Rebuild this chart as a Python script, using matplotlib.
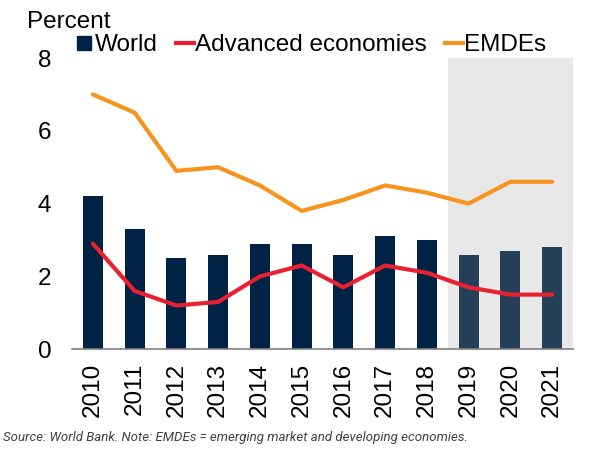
import numpy as np
import matplotlib.pyplot as plt
from matplotlib.lines import Line2D

years = ["2010", "2011", "2012", "2013", "2014", "2015", "2016", "2017", "2018", "2019", "2020", "2021"]
world = [4.2, 3.3, 2.5, 2.6, 2.9, 2.9, 2.6, 3.1, 3.0, 2.6, 2.7, 2.8]
advanced = [2.9, 1.6, 1.2, 1.3, 2.0, 2.3, 1.7, 2.3, 2.1, 1.7, 1.5, 1.5]
emdes = [7.0, 6.5, 4.9, 5.0, 4.5, 3.8, 4.1, 4.5, 4.3, 4.0, 4.6, 4.6]
n_forecast = 3

plt.rcParams['font.family'] = ['Liberation Sans', 'DejaVu Sans']

fig = plt.figure(figsize=(6, 4.5), dpi=100)
ax = fig.add_axes([0.12, 0.224, 0.835, 0.647])

x = np.arange(len(years))
n_hist = len(years) - n_forecast
ax.axvspan(n_hist - 0.5, len(years) - 0.5, ymin=0, ymax=1, color="#e8e8e8", zorder=0, lw=0)
colors = ["#002345"] * n_hist + ["#263f58"] * n_forecast
ax.bar(x, world, width=0.48, color=colors, zorder=2)
ax.plot(x, advanced, color="#e8202f", lw=3, zorder=3, solid_capstyle="round")
ax.plot(x, emdes, color="#f7941d", lw=3, zorder=3, solid_capstyle="round")

ax.set_xlim(-0.5, len(years) - 0.5)
ax.set_ylim(0, 8)
ax.set_yticks([0, 2, 4, 6, 8])
ax.set_xticks(x)
ax.set_xticklabels(years, rotation=90, fontsize=17.5)
ax.tick_params(axis="y", labelsize=17.5, length=0, pad=15)
ax.tick_params(axis="x", length=0, pad=10)
for s in ["top", "right", "left"]:
    ax.spines[s].set_visible(False)
ax.spines["bottom"].set_color("#808080")
ax.spines["bottom"].set_linewidth(1.2)

fig.text(0.045, 0.951, "Percent", fontsize=17.5, va="center")

handles = [
    Line2D([], [], marker="s", color="none", markerfacecolor="#002345", markeredgecolor="#002345", markersize=10),
    Line2D([], [], color="#e8202f", lw=3),
    Line2D([], [], color="#f7941d", lw=3),
]
fig.legend(handles, ["World", "Advanced economies", "EMDEs"], loc="center left",
           bbox_to_anchor=(0.125, 0.9), ncol=3, frameon=False, fontsize=17.5,
           handlelength=0.75, handletextpad=0.05, columnspacing=0.75, borderpad=0,
           borderaxespad=0)

fig.text(0.005, 0.027, "Source: World Bank. Note: EMDEs = emerging market and developing economies.",
         fontsize=9.5, style="italic", color="#404040", family=["Roboto", "DejaVu Sans"],
         va="center")

fig.savefig("out.png", dpi=100)
